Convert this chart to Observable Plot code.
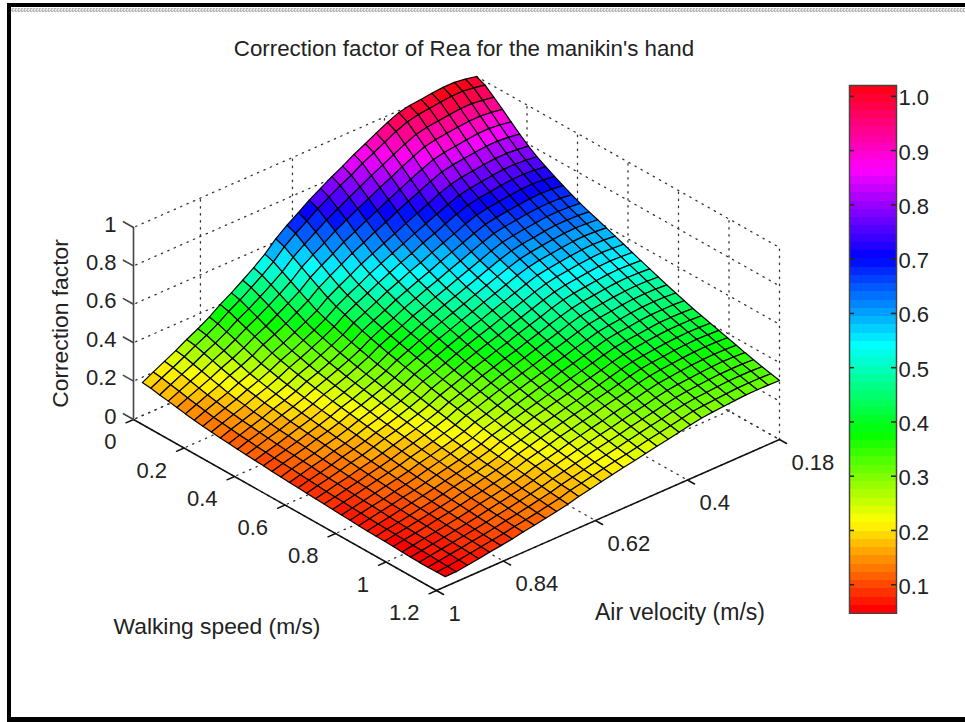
<!DOCTYPE html>
<html>
<head>
<meta charset="utf-8">
<script src="https://cdn.jsdelivr.net/npm/d3@7"></script>
<script src="https://cdn.jsdelivr.net/npm/@observablehq/plot@0.6"></script>
<style>
  html, body { margin: 0; padding: 0; background: #fff; width: 965px; height: 722px; overflow: hidden; }
  body { position: relative; font-family: "Liberation Sans", Arial, sans-serif; color: #222; }
  #frame { position: absolute; left: 7px; top: 3px; width: 958px; height: 719px; box-sizing: border-box;
           border-left: 4px solid #000; border-top: 4px solid #000; border-bottom: 5px solid #000; }
  #hatch { position: absolute; left: 11px; top: 8px; width: 954px; height: 4px;
           background: repeating-conic-gradient(#b8b8b8 0 25%, #ececec 0 50%) 0 0 / 3px 3px; }
  #title { position: absolute; left: 0; width: 928px; top: 36px; text-align: center; font-size: 22.3px; line-height: 26px; }
  #surface, #bar { position: absolute; }
  #surface { left: 0; top: 0; }
  #bar { left: 848px; top: 84px; }
  svg { display: block; }
</style>
</head>
<body>
<div id="frame"></div>
<div id="hatch"></div>
<div id="title">Correction factor of Rea for the manikin's hand</div>
<div id="surface"></div>
<div id="bar"></div>
<script>
// ---- values ----
const walkingSpeeds = [0,.034,.069,.103,.137,.171,.206,.24,.274,.309,.343,.377,.411,.446,.48,.514,.549,.583,.617,.651,.686,.72,.754,.789,.823,.857,.891,.926,.96,.994,1.029,1.063,1.097,1.131,1.166,1.2];
const airVelocities = [.18,.207,.233,.26,.287,.313,.34,.366,.393,.42,.446,.473,.5,.526,.553,.58,.606,.633,.66,.686,.713,.739,.766,.793,.819,.846,.873,.899,.926,.953,.979];
// correction factor x 1000; one row per walking speed, one column per air velocity
const factorRows = [
[1000,1012,1020,1020,1015,1008,1002,990,965,935,905,875,840,810,775,740,700,660,615,560,515,475,435,400,360,325,295,262,232,202,172],
[980,992,999,999,994,986,980,967,943,912,883,854,818,789,755,720,681,642,598,545,501,462,423,389,350,316,287,255,225,196,168],
[943,953,961,960,954,947,940,928,903,874,845,816,783,753,720,687,650,611,570,519,477,440,403,371,334,301,273,242,215,187,159],
[905,915,921,920,915,908,900,889,864,836,807,779,747,719,687,655,618,582,543,494,454,419,384,353,318,287,260,231,205,178,152],
[865,875,881,880,874,866,859,847,823,796,769,741,710,683,652,622,586,552,515,468,431,397,363,335,301,272,247,219,194,169,144],
[827,836,841,840,834,827,820,808,785,758,732,705,675,649,619,590,557,523,488,444,409,376,345,318,285,258,234,208,184,160,136],
[790,798,803,802,796,788,781,769,747,720,695,669,641,615,587,559,527,495,461,419,386,356,326,300,270,243,221,196,174,152,129],
[760,768,772,771,765,757,749,738,716,691,666,641,613,589,561,534,503,473,440,401,368,340,311,287,258,233,211,187,166,144,123],
[734,741,745,744,738,730,723,711,690,665,641,617,589,566,539,512,483,454,423,385,353,326,299,275,247,223,203,180,159,139,118],
[709,716,720,718,712,705,697,686,665,640,617,593,566,545,518,493,464,435,406,369,339,313,286,264,237,214,194,172,152,133,113],
[686,693,696,694,688,681,673,662,641,618,595,572,546,524,499,474,446,418,390,355,326,300,275,254,228,206,187,166,147,128,109],
[664,671,673,672,666,659,651,640,620,597,574,552,527,506,481,457,430,404,376,342,314,290,266,244,220,199,180,160,141,124,105],
[644,650,653,651,645,638,630,620,600,577,555,533,509,488,464,441,415,389,363,330,303,279,256,236,212,191,173,154,137,118,101],
[626,632,634,633,627,619,612,601,582,560,538,516,493,473,449,426,401,376,350,318,292,270,247,227,205,185,168,149,131,115,98],
[610,615,618,616,610,603,595,584,565,544,523,501,478,458,436,413,389,364,339,308,283,261,239,220,198,179,162,144,127,111,95],
[593,598,601,598,592,585,578,567,549,527,506,486,463,443,421,399,375,351,327,298,273,252,231,213,191,173,157,139,123,107,91],
[576,581,583,581,575,568,560,550,531,510,490,470,448,429,407,385,362,339,316,287,264,243,223,205,184,166,151,134,119,104,88],
[559,563,566,563,557,550,543,532,514,494,474,454,432,414,393,372,349,326,305,277,254,235,215,198,178,160,146,129,115,100,85],
[541,545,547,545,539,532,525,514,497,477,458,438,417,399,379,359,337,315,293,267,245,226,207,190,171,155,141,124,110,96,82],
[524,528,530,528,522,515,508,498,481,461,443,424,403,386,366,347,325,304,283,258,237,219,200,184,166,149,136,121,106,93,79],
[507,511,513,511,505,498,491,481,464,446,427,409,389,372,353,334,314,293,273,248,228,210,193,177,160,144,131,116,103,89,76],
[490,494,495,493,488,481,474,465,449,430,413,395,376,359,341,322,302,283,264,240,220,203,186,171,154,139,126,112,99,86,74],
[474,478,479,477,472,465,458,449,433,415,398,381,362,346,328,311,292,272,254,230,212,195,179,165,148,134,121,108,95,83,71],
[458,462,463,461,456,449,442,433,418,401,384,368,349,334,317,300,281,262,245,222,204,188,173,159,143,129,117,104,92,80,68],
[443,447,447,446,441,434,428,419,404,387,371,355,337,323,306,289,271,253,236,214,197,182,167,153,138,124,113,100,89,77,66],
[428,431,432,431,425,419,413,404,390,374,358,343,326,311,295,279,262,244,228,207,190,175,161,148,133,120,109,97,86,74,63],
[415,418,419,417,413,407,400,392,378,362,347,332,316,302,286,271,254,237,221,200,184,170,156,143,129,116,105,94,83,72,61],
[402,405,406,404,400,394,388,380,367,351,336,322,306,292,277,262,246,229,214,194,178,164,151,139,125,113,102,91,80,70,59],
[390,393,394,392,388,382,376,369,356,340,326,312,297,284,269,254,238,222,207,188,173,160,146,135,121,109,99,88,78,68,58],
[377,380,381,379,375,369,364,356,344,329,316,302,287,274,260,246,230,215,201,182,167,154,141,130,117,106,96,85,75,66,56],
[364,367,368,366,362,357,351,344,332,318,305,292,277,265,251,237,222,207,194,176,162,149,137,126,113,102,92,82,73,63,54],
[351,354,355,353,349,344,339,332,320,306,294,281,267,255,242,229,214,200,187,170,156,144,132,121,109,98,89,79,70,61,52],
[339,342,342,341,337,332,327,320,309,296,284,272,258,246,234,221,207,193,180,164,151,139,127,117,105,95,86,77,68,59,50],
[328,331,331,330,326,321,317,310,299,286,275,263,250,238,226,214,200,187,174,158,146,134,123,113,102,92,83,74,66,57,50],
[317,320,320,319,315,311,306,300,289,277,265,254,241,230,219,207,194,181,169,153,141,130,119,109,98,89,81,72,63,55,51],
[307,309,310,309,305,301,296,290,280,268,257,246,234,223,212,200,188,175,163,148,136,126,115,106,95,86,78,69,61,53,52]
];
const speedTicks = [0,.2,.4,.6,.8,1,1.2];
const airTicks = [.18,.4,.62,.84,1];
const factorTicks = [0,.2,.4,.6,.8,1];
const barTicks = [.1,.2,.3,.4,.5,.6,.7,.8,.9,1];
const colorMin = .047, colorMax = 1.02, colorLevels = 64;

// ---- view of the 3-D box (orthographic) ----
const speedSpan = 1.2, airStart = .18, airSpan = .82;
const X = (s, v) => 476 + (s / speedSpan) * 303 - ((v - airStart) / airSpan) * 343;
const Y = (s, v, f) => 268 + (s / speedSpan) * 171 + ((v - airStart) / airSpan) * 151 - 192 * f;
const INK = "#222";
const FONT = "Liberation Sans, Arial, sans-serif";

// ---- colour scale: 64 steps of the hsv map ----
const hsvColors = d3.range(colorLevels).map(i => d3.hsl(360 * i / colorLevels, 1, .5).formatHex());
const levelStep = (colorMax - colorMin) / colorLevels;
const thresholds = d3.range(1, colorLevels).map(i => colorMin + i * levelStep);
const colorScale = {type: "threshold", domain: thresholds, range: hsvColors};

// ---- surface facets ----
const facets = [];
for (let i = 0; i < walkingSpeeds.length - 1; i++) {
  for (let j = 0; j < airVelocities.length - 1; j++) {
    const corners = [[i, j], [i + 1, j], [i + 1, j + 1], [i, j + 1]];
    const value = d3.mean(corners, ([a, b]) => factorRows[a][b] / 1000);
    for (const [a, b] of corners) {
      facets.push({id: i * 100 + j, s: walkingSpeeds[a], v: airVelocities[b], f: factorRows[a][b] / 1000, value});
    }
  }
}

// ---- segments in box coordinates ----
const airFar = airTicks[airTicks.length - 1], speedFar = speedTicks[speedTicks.length - 1], factorTop = 1;
function segments(list) {
  return list.flatMap((pair, k) => pair.map(([s, v, f]) => ({id: k, s, v, f})));
}
const grid = segments([
  ...speedTicks.map(s => [[s, airStart, 0], [s, airFar, 0]]),
  ...airTicks.map(v => [[0, v, 0], [speedFar, v, 0]]),
  ...factorTicks.map(f => [[0, airStart, f], [0, airFar, f]]),
  ...factorTicks.map(f => [[0, airStart, f], [speedFar, airStart, f]]),
  ...airTicks.slice(0, -1).map(v => [[0, v, 0], [0, v, factorTop]]),
  ...speedTicks.map(s => [[s, airStart, 0], [s, airStart, factorTop]])
]);
const floorAxes = segments([
  [[0, airFar, 0], [speedFar, airFar, 0]],
  [[speedFar, airStart, 0], [speedFar, airFar, 0]],
  ...speedTicks.map(s => [[s, airFar, 0], [s, airFar + .018, 0]]),
  ...airTicks.map(v => [[speedFar, v, 0], [speedFar + .028, v, 0]])
]);
const heightAxis = segments([
  [[0, airFar, 0], [0, airFar, factorTop]],
  ...factorTicks.map(f => [[0, airFar, f], [-.04, airFar, f]])
]);
const path3 = {x: d => X(d.s, d.v), y: d => Y(d.s, d.v, d.f), z: "id"};

const chart = Plot.plot({
  width: 965, height: 722,
  marginTop: 0, marginRight: 0, marginBottom: 0, marginLeft: 0,
  x: {type: "linear", domain: [0, 965], range: [0, 965], axis: null},
  y: {type: "linear", domain: [0, 722], range: [0, 722], axis: null},
  color: colorScale,
  style: {background: "transparent", fontFamily: FONT, color: INK},
  marks: [
    Plot.line(grid, {...path3, stroke: "#333", strokeWidth: 1.3, strokeDasharray: "1.3 5.7"}),
    Plot.line(floorAxes, {...path3, stroke: "#111", strokeWidth: 1.5}),
    Plot.line(heightAxis, {...path3, stroke: "#444", strokeWidth: 1.6}),
    Plot.line(facets, {
      x: d => X(d.s, d.v), y: d => Y(d.s, d.v, d.f), z: "id",
      fill: "value", stroke: "#000", strokeWidth: 1.2, curve: "linear-closed"
    }),
    Plot.text(factorTicks, {
      x: () => X(0, airFar), y: d => Y(0, airFar, d), text: d => String(d),
      textAnchor: "end", dx: -17, dy: -3, fontSize: 22, fill: INK
    }),
    Plot.text(speedTicks, {
      x: d => X(d, airFar), y: d => Y(d, airFar, 0), text: d => String(d),
      textAnchor: "end", dx: -17, dy: 22.5, fontSize: 22, fill: INK
    }),
    Plot.text(airTicks, {
      x: d => X(speedFar, d), y: d => Y(speedFar, d, 0), text: d => String(d),
      textAnchor: "start", dx: 12, dy: 23, fontSize: 22, fill: INK
    }),
    Plot.text(["Walking speed (m/s)"], {
      x: () => X(speedFar / 2, airFar), y: () => Y(speedFar / 2, airFar, 0), text: d => d,
      dx: -68, dy: 122, fontSize: 22.8, fill: INK
    }),
    Plot.text(["Air velocity (m/s)"], {
      x: () => X(speedFar, (airStart + airFar) / 2), y: () => Y(speedFar, (airStart + airFar) / 2, 0), text: d => d,
      dx: 72, dy: 98, fontSize: 23, fill: INK
    }),
    Plot.text(["Correction factor"], {
      x: () => X(0, airFar), y: () => Y(0, airFar, .5), text: d => d,
      dx: -73, rotate: -90, fontSize: 22.8, fill: INK
    })
  ]
});
document.getElementById("surface").append(chart);

// ---- colour bar ----
const barLevels = d3.range(colorLevels).map(i => ({
  lo: colorMin + i * levelStep, hi: colorMin + (i + 1) * levelStep, mid: colorMin + (i + .5) * levelStep
}));
const bar = Plot.plot({
  width: 117, height: 530,
  marginTop: 1, marginBottom: 1, marginLeft: 1, marginRight: 69,
  y: {domain: [colorMin, colorMax], axis: null},
  color: colorScale,
  style: {background: "transparent", fontFamily: FONT, color: INK},
  marks: [
    Plot.rect(barLevels, {y1: "lo", y2: "hi", fill: "mid", shapeRendering: "crispEdges"}),
    Plot.ruleY(barTicks, {insetRight: 42, stroke: "#222", strokeWidth: 1.5}),
    Plot.ruleY(barTicks, {insetLeft: 42, stroke: "#222", strokeWidth: 1.5}),
    Plot.frame({stroke: "#444", strokeWidth: 1.5}),
    Plot.text(barTicks, {
      y: d => d, frameAnchor: "right", text: d3.format(".1f"),
      textAnchor: "start", dx: 2, dy: 2, fontSize: 22, fill: INK
    })
  ]
});
document.getElementById("bar").append(bar);
</script>
</body>
</html>
